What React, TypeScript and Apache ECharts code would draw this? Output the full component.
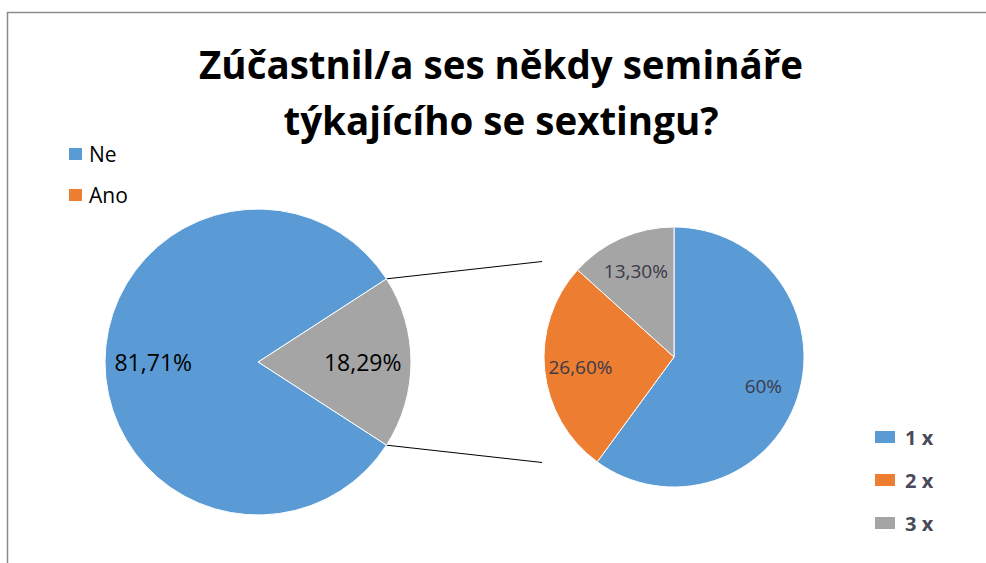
import React, { useEffect, useRef } from "react";
import * as echarts from "echarts";

const titleText = "Zúčastnil/a ses někdy semináře\ntýkajícího se sextingu?";
const mainNames = ["Ano", "Ne"];
const mainValues = [18.29, 81.71];
const mainColors = ["#A5A5A5", "#5B9BD5"];
const legend1Names = ["Ne", "Ano"];
const legend1Colors = ["#5B9BD5", "#ED7D31"];
const subNames = ["1 x", "2 x", "3 x"];
const subValues = [60, 26.6, 13.3];
const subColors = ["#5B9BD5", "#ED7D31", "#A5A5A5"];

const fmt = (v: number) =>
  (Number.isInteger(v) ? String(v) : v.toFixed(2).replace(".", ",")) + "%";

export default function App() {
  const ref = useRef<HTMLDivElement>(null);
  useEffect(() => {
    document.body.style.margin = "0";
    if (!ref.current) return;
    const chart = echarts.init(ref.current, undefined, { renderer: "svg" });
    const FONT = "'Open Sans', sans-serif";

    const c1 = [258, 362];
    const r1 = 153;
    const c2 = [674, 357];
    const r2 = 130;
    const total1 = mainValues.reduce((a, b) => a + b, 0);
    const half = (mainValues[0] / total1) * 180; // degrees
    const rad = (half * Math.PI) / 180;
    const p1 = [c1[0] + r1 * Math.cos(rad), c1[1] - r1 * Math.sin(rad)];
    const p2 = [c1[0] + r1 * Math.cos(rad), c1[1] + r1 * Math.sin(rad)];
    const ex = c2[0] - r2 * 1.015;
    const e1 = [ex, c1[1] - 100.5];
    const e2 = [ex, c1[1] + 100.5];

    const mainData = mainNames.map((n, i) => ({
      name: n,
      value: mainValues[i],
      itemStyle: { color: mainColors[i] },
    }));
    const subData = subNames.map((n, i) => ({
      name: n,
      value: subValues[i],
      itemStyle: { color: subColors[i] },
    }));

    chart.setOption({
      animation: false,
      backgroundColor: "#fff",
      title: {
        text: titleText,
        left: 501,
        top: 36,
        padding: 0,
        textAlign: "center",
        textStyle: {
          fontFamily: FONT,
          fontSize: 38.5,
          fontWeight: "bold",
          color: "#000",
          lineHeight: 56,
        },
      },
      legend: [
        {
          orient: "vertical",
          left: 67,
          top: 143,
          padding: 0,
          itemWidth: 15,
          itemHeight: 14,
          itemGap: 19,
          icon: "rect",
          selectedMode: false,
          data: legend1Names.map((n, i) => ({
            name: n,
            icon: "rect",
            itemStyle: { color: legend1Colors[i] },
          })),
          textStyle: {
            fontFamily: FONT,
            fontSize: 21,
            lineHeight: 22,
            color: "#000",
            padding: [0, 0, 0, 1],
          },
        },
        {
          orient: "vertical",
          left: 873,
          top: 427,
          padding: 0,
          itemWidth: 22,
          itemHeight: 14,
          itemGap: 23,
          icon: "rect",
          selectedMode: false,
          data: subNames.map((n, i) => ({
            name: n,
            icon: "rect",
            itemStyle: { color: subColors[i] },
          })),
          textStyle: {
            fontFamily: FONT,
            fontSize: 20,
            fontWeight: "bold",
            lineHeight: 20,
            color: "#4a4a5a",
            padding: [0, 0, 0, 4],
          },
        },
      ],
      series: [
        {
          type: "pie",
          center: c1,
          radius: [0, r1],
          startAngle: half,
          clockwise: true,
          silent: true,
          label: { show: false },
          labelLine: { show: false },
          itemStyle: { borderColor: "#fff", borderWidth: 1 },
          data: mainData,
        },
        {
          type: "pie",
          center: c2,
          radius: [0, r2],
          startAngle: 90,
          clockwise: true,
          silent: true,
          label: { show: false },
          labelLine: { show: false },
          itemStyle: { borderColor: "#fff", borderWidth: 1 },
          data: subData,
        },
        {
          type: "pie",
          center: c1,
          radius: [r1 * 0.33, r1],
          startAngle: half,
          clockwise: true,
          silent: true,
          itemStyle: { color: "rgba(0,0,0,0)" },
          label: {
            show: true,
            position: "inside",
            formatter: (p: any) => fmt(p.value),
            fontFamily: FONT,
            fontSize: 23,
            color: "#000",
          },
          labelLine: { show: false },
          data: mainNames.map((n, i) => ({ name: n, value: mainValues[i] })),
        },
        {
          type: "pie",
          center: c2,
          radius: [r2 * 0.4, r2],
          startAngle: 90,
          clockwise: true,
          silent: true,
          itemStyle: { color: "rgba(0,0,0,0)" },
          label: {
            show: true,
            position: "inside",
            formatter: (p: any) => fmt(p.value),
            fontFamily: FONT,
            fontSize: 19,
            color: "#3a3a4a",
          },
          labelLine: { show: false },
          data: subNames.map((n, i) => ({ name: n, value: subValues[i] })),
        },
      ],
      graphic: [
        {
          type: "line",
          shape: { x1: 7, y1: 12.5, x2: 986, y2: 12.5 },
          style: { stroke: "#8c8c8c", lineWidth: 1.5 },
          silent: true,
        },
        {
          type: "line",
          shape: { x1: 7.5, y1: 12, x2: 7.5, y2: 563 },
          style: { stroke: "#8c8c8c", lineWidth: 1.5 },
          silent: true,
        },
        {
          type: "line",
          shape: { x1: p1[0], y1: p1[1], x2: e1[0], y2: e1[1] },
          style: { stroke: "#000", lineWidth: 1 },
          silent: true,
        },
        {
          type: "line",
          shape: { x1: p2[0], y1: p2[1], x2: e2[0], y2: e2[1] },
          style: { stroke: "#000", lineWidth: 1 },
          silent: true,
        },
      ],
    });
    return () => chart.dispose();
  }, []);
  return <div ref={ref} style={{ width: 986, height: 563 }} />;
}
